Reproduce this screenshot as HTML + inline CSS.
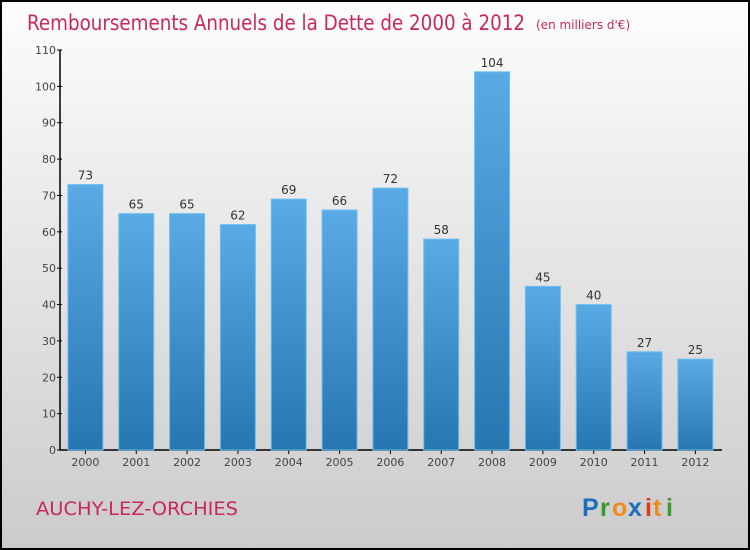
<!DOCTYPE html>
<html><head><meta charset="utf-8"><style>
body{margin:0;width:750px;height:550px;overflow:hidden;}
svg{display:block;font-family:"DejaVu Sans","Liberation Sans",sans-serif;}
</style></head><body>
<svg width="750" height="550">
<defs>
<linearGradient id="bg" x1="0" y1="0" x2="0" y2="1"><stop offset="0" stop-color="#fdfdfd"/><stop offset="1" stop-color="#cbcbcb"/></linearGradient>
<linearGradient id="bar" x1="0" y1="0" x2="0" y2="1"><stop offset="0" stop-color="#5aaae6"/><stop offset="1" stop-color="#2676b2"/></linearGradient>
</defs>
<rect x="1" y="1" width="748" height="548" fill="url(#bg)" stroke="#000" stroke-width="2"/>
<text x="27" y="30" font-size="21" fill="#c8285a" textLength="498" lengthAdjust="spacingAndGlyphs">Remboursements Annuels de la Dette de 2000 à 2012</text>
<text x="536" y="29" font-size="12" fill="#c8285a">(en milliers d'€)</text>
<g id="axes"></g>
<g id="bars"></g>
<text x="36" y="515" font-size="19" fill="#c8285a" textLength="202" lengthAdjust="spacingAndGlyphs">AUCHY-LEZ-ORCHIES</text>
<g font-size="25" font-weight="bold" font-family="'Liberation Sans',sans-serif">
<text x="582" y="516" fill="#1a6fc0">P</text><text x="600" y="516" fill="#3a9a2a">r</text><text x="612" y="516" fill="#f08a1a">o</text><text x="628" y="516" fill="#1a6fc0">x</text><text x="645" y="516" fill="#e03a1a">i</text><text x="653" y="516" fill="#f08a1a">t</text><text x="666" y="516" fill="#3a9a2a">i</text>
</g>
</svg>
<script>
const categories=["2000","2001","2002","2003","2004","2005","2006","2007","2008","2009","2010","2011","2012"];
const values=[73,65,65,62,69,66,72,58,104,45,40,27,25];
const yTicks=[0,10,20,30,40,50,60,70,80,90,100,110];
const NS="http://www.w3.org/2000/svg";
const x0=60,band=50.83,y0=450,yMax=110,plotH=400,bw=35;
const y=v=>y0-v/yMax*plotH;
const xc=i=>x0+band*(i+0.5);
function mk(t,a,p){const e=document.createElementNS(NS,t);for(const k in a)e.setAttribute(k,a[k]);p.appendChild(e);return e;}
const ax=document.getElementById('axes'),bars=document.getElementById('bars');
const yl=mk('line',{x1:x0,y1:y(yMax),x2:x0,y2:y0,stroke:'#000','stroke-width':1.5},ax);


const xl=mk('line',{x1:x0,y1:y0,x2:722,y2:y0,stroke:'#000','stroke-width':1.5},ax);


yTicks.forEach(t=>{
 mk('line',{x1:x0-3,y1:y(t),x2:x0+2,y2:y(t),stroke:'#000'},ax);
 const tx=mk('text',{x:x0-4,y:y(t)+4,'font-size':11,fill:'#444','text-anchor':'end'},ax);
 tx.textContent=t;
 
 
});
categories.forEach((c,i)=>{
 const r=mk('rect',{x:xc(i)-bw/2,y:y(values[i]),width:bw,height:y0-y(values[i]),fill:'url(#bar)',stroke:'#6cc0f0','stroke-width':1},bars);
 
 
 const v=mk('text',{x:xc(i),y:y(values[i])-5,'font-size':12,fill:'#333','text-anchor':'middle'},bars);
 v.textContent=values[i];
 
 
 mk('line',{x1:xc(i),y1:y0,x2:xc(i),y2:y0+4,stroke:'#000'},ax);
 const l=mk('text',{x:xc(i),y:y0+16,'font-size':11,fill:'#444','text-anchor':'middle'},ax);
 l.textContent=c;
 
 
});
</script>
</body></html>
